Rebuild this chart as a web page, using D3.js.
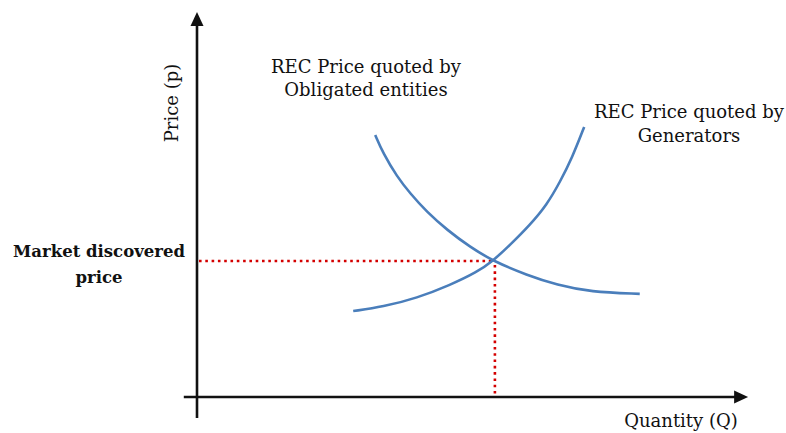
<!DOCTYPE html>
<html>
<head>
<meta charset="utf-8">
<script src="https://cdn.jsdelivr.net/npm/d3@7"></script>
<style>
  body { margin: 0; background: #fff; }
  text { font-family: "DejaVu Serif", serif; fill: #111; }
</style>
</head>
<body>
<div id="chart"></div>
<script>
const width = 786;
const height = 433;

// curves in quantity / price units (0..100 on both axes)
const obligatedQ = [32.4, 33.8, 36.4, 38.7, 41.8, 45.5, 49.6, 53.8, 60.0, 65.5, 71.5, 80.5];
const obligatedP = [68.6, 63.9, 57.6, 53.4, 48.4, 43.7, 39.3, 35.6, 31.9, 29.3, 27.5, 27.0];
const generatorQ = [28.4, 33.8, 40.0, 46.0, 50.9, 53.8, 56.9, 60.5, 63.6, 66.0, 68.2, 70.4];
const generatorP = [22.5, 23.6, 25.9, 29.3, 32.7, 35.6, 39.8, 45.0, 50.3, 56.3, 62.6, 70.7];
const equilibrium = { q: 53.8, p: 35.6 };

const xLabel = "Quantity (Q)";
const yLabel = "Price (p)";
const obligatedLabel = ["REC Price quoted by", "Obligated entities"];
const generatorLabel = ["REC Price quoted by", "Generators"];
const priceLabel = ["Market discovered", "price"];

const toPoints = (qs, ps) => qs.map((q, i) => ({ q: q, p: ps[i] }));

//scales
const xScale = d3.scaleLinear().domain([0, 100]).range([197, 747]);
const yScale = d3.scaleLinear().domain([0, 100]).range([397, 15]);

const svg = d3.select("#chart").append("svg").attr("width", width).attr("height", height);

const line = d3.line()
    .x(d => xScale(d.q))
    .y(d => yScale(d.p))
    .curve(d3.curveBasis);

// dotted guides
svg.append("path")
    .attr("d", `M${xScale(0) + 2},${yScale(equilibrium.p)}H${xScale(equilibrium.q)}`)
    .attr("stroke", "#d40000")
    .attr("stroke-width", 2.6)
    .attr("stroke-dasharray", "2.6,3.7")
    .attr("fill", "none");

svg.append("path")
    .attr("d", `M${xScale(equilibrium.q) + 2},${yScale(equilibrium.p) + 4}V${yScale(0) - 1}`)
    .attr("stroke", "#d40000")
    .attr("stroke-width", 2.6)
    .attr("stroke-dasharray", "2.6,3.7")
    .attr("fill", "none");

// axes
const x0 = xScale(0), y0 = yScale(0);
const xEnd = xScale(100.2), yEnd = yScale(100.8);

svg.append("line")
    .attr("x1", xScale(-2.4)).attr("y1", y0)
    .attr("x2", xEnd - 10).attr("y2", y0)
    .attr("stroke", "#111").attr("stroke-width", 2.6);

svg.append("line")
    .attr("x1", x0).attr("y1", yScale(-5.5))
    .attr("x2", x0).attr("y2", yEnd + 10)
    .attr("stroke", "#111").attr("stroke-width", 2.6);

svg.append("path")
    .attr("d", `M${xEnd},${y0}L${xEnd - 14},${y0 - 6.5}L${xEnd - 14},${y0 + 6.5}Z`)
    .attr("fill", "#111");

svg.append("path")
    .attr("d", `M${x0},${yEnd}L${x0 - 6.5},${yEnd + 14}L${x0 + 6.5},${yEnd + 14}Z`)
    .attr("fill", "#111");

// curves
svg.append("path")
    .datum(toPoints(obligatedQ, obligatedP))
    .attr("d", line)
    .attr("fill", "none")
    .attr("stroke", "#4a7ebb")
    .attr("stroke-width", 2.6);

svg.append("path")
    .datum(toPoints(generatorQ, generatorP))
    .attr("d", line)
    .attr("fill", "none")
    .attr("stroke", "#4a7ebb")
    .attr("stroke-width", 2.6);

// labels
const multiLine = (lines, x, y, bold, gap) => {
    const t = svg.append("text")
        .attr("text-anchor", "middle")
        .style("font-size", bold ? "16.5px" : "18px")
        .style("font-weight", bold ? "bold" : "normal");
    lines.forEach((s, i) => {
        t.append("tspan").attr("x", x).attr("y", y + i * gap).text(s);
    });
};

multiLine(obligatedLabel, 366, 73, false, 23);
multiLine(generatorLabel, 689, 118, false, 24);
multiLine(priceLabel, 99, 257, true, 26);

svg.append("text")
    .attr("text-anchor", "middle")
    .attr("x", 681).attr("y", 427)
    .style("font-size", "18px")
    .text(xLabel);

svg.append("text")
    .attr("text-anchor", "middle")
    .attr("transform", "translate(178,103) rotate(-90)")
    .style("font-size", "18px")
    .text(yLabel);
</script>
</body>
</html>
